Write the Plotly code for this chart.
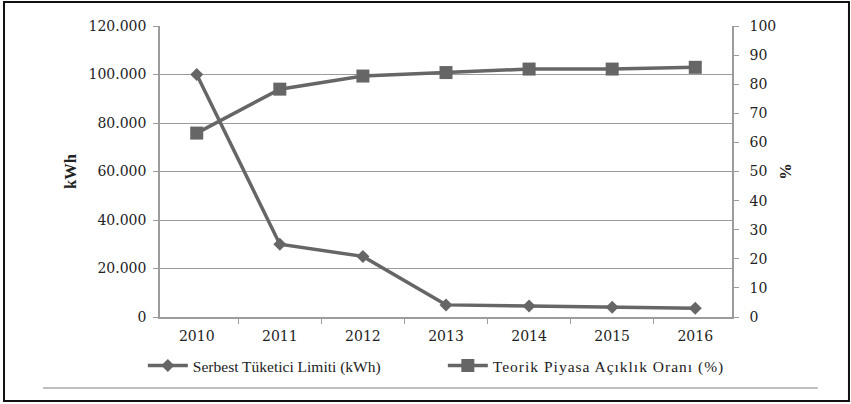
import plotly.graph_objects as go

years = ["2010", "2011", "2012", "2013", "2014", "2015", "2016"]
limit_kwh = [100000, 30000, 25000, 5000, 4500, 4000, 3600]
open_pct = [63.2, 78.3, 82.8, 84.0, 85.2, 85.2, 85.8]
left_ticks = [0, 20000, 40000, 60000, 80000, 100000, 120000]
left_labels = ["0", "20.000", "40.000", "60.000", "80.000", "100.000", "120.000"]
right_ticks = list(range(0, 101, 10))
series_names = ["Serbest Tüketici Limiti (kWh)",
                "<span style='letter-spacing:1px'>Teorik Piyasa Açıklık Oranı (%)</span>"]

LINE = "#666666"
GRID = "#9c9c9c"
TXT = "#222222"
TICKFONT = dict(family="DejaVu Serif", size=14, color=TXT)
SERIF = "Liberation Serif"

fig = go.Figure()
fig.add_trace(go.Scatter(
    x=years, y=limit_kwh, name=series_names[0],
    mode="lines+markers", line=dict(color=LINE, width=3.5),
    marker=dict(symbol="diamond", size=10, color=LINE), yaxis="y"))
fig.add_trace(go.Scatter(
    x=years, y=open_pct, name=series_names[1],
    mode="lines+markers", line=dict(color=LINE, width=3.5),
    marker=dict(symbol="square", size=13, color=LINE), yaxis="y2"))

fig.update_layout(
    width=851, height=404,
    margin=dict(l=160, r=119, t=26, b=87),
    paper_bgcolor="white", plot_bgcolor="white",
    font=dict(family=SERIF, size=16, color=TXT),
    showlegend=True,
    legend=dict(orientation="h", x=-0.03, xanchor="left", y=-0.168, yanchor="middle",
                font=dict(family=SERIF, size=15.5, color=TXT), itemwidth=40,
                entrywidth=245, entrywidthmode="pixels",
                bgcolor="rgba(0,0,0,0)"),
    xaxis=dict(type="category", showline=True, linecolor=GRID, linewidth=1.5,
               ticks="outside", tickson="boundaries", ticklen=5, tickcolor=GRID,
               ticklabelstandoff=5,
               showgrid=False, tickfont=TICKFONT),
    yaxis=dict(range=[0, 120000], tickvals=left_ticks, ticktext=left_labels,
               showline=True, linecolor=GRID, linewidth=1.5,
               ticks="outside", ticklen=5, tickcolor=GRID, ticklabelstandoff=4,
               showgrid=True, gridcolor=GRID, gridwidth=1.3, zeroline=False,
               title=dict(text="<b>kWh</b>", font=dict(family=SERIF, size=16.5, color=TXT), standoff=8),
               tickfont=TICKFONT),
    yaxis2=dict(range=[0, 100], tickvals=right_ticks, overlaying="y", side="right",
                showline=True, linecolor=GRID, linewidth=1.5,
                ticks="outside", ticklen=5, tickcolor=GRID, ticklabelstandoff=8,
                showgrid=False, zeroline=False,
                title=dict(text="<b>%</b>", font=dict(family=SERIF, size=16.5, color=TXT), standoff=4),
                tickfont=TICKFONT),
    shapes=[
        dict(type="rect", xref="paper", yref="paper",
             x0=-0.2727, x1=1.2045, y0=-0.2887, y1=1.0825,
             line=dict(color="#111111", width=2), fillcolor="rgba(0,0,0,0)", layer="below"),
        dict(type="line", xref="paper", yref="paper",
             x0=-0.2045, x1=1.150, y0=-0.244, y1=-0.244,
             line=dict(color="#aaaaaa", width=1.5)),
    ],
)

fig.write_html("out.html", config={"displayModeBar": False},
               post_script="document.body.style.margin='0';document.body.style.overflow='hidden';")
